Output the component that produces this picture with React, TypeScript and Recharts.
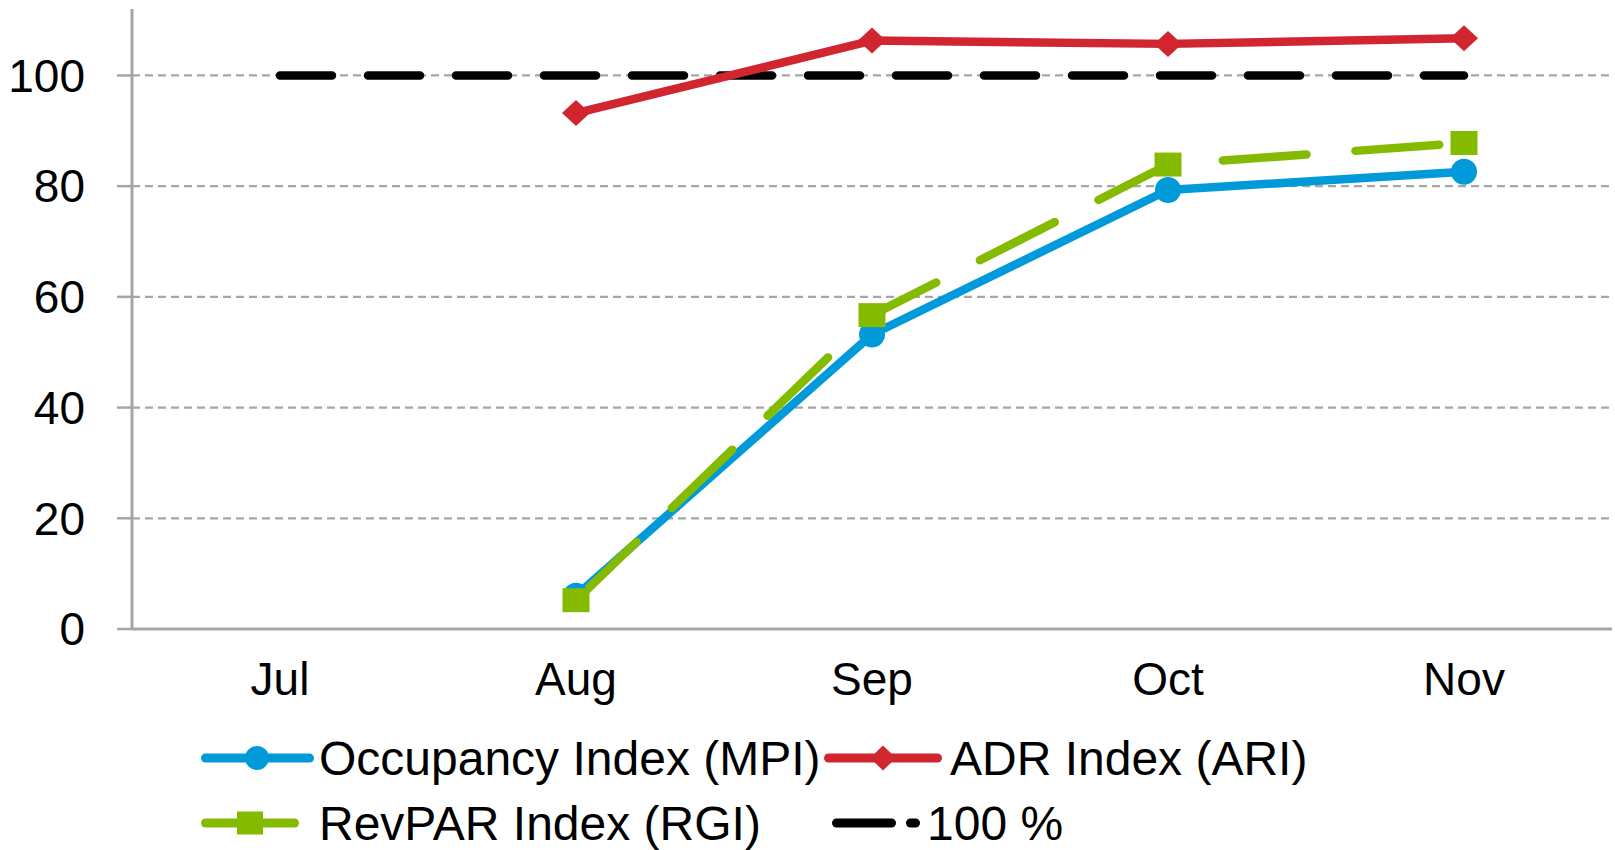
import React from 'react';
import { LineChart, Line, XAxis, YAxis, CartesianGrid, Legend } from 'recharts';

const months = ['Jul', 'Aug', 'Sep', 'Oct', 'Nov'];
const mpiValues = [null, 6.0, 53.2, 79.3, 82.6];
const ariValues = [null, 93.2, 106.3, 105.7, 106.7];
const rgiValues = [null, 5.2, 56.7, 83.9, 87.8];
const refValues = [100, 100, 100, 100, 100];
const yTicks = [0, 20, 40, 60, 80, 100];
const yDomain = [0, 112];

const seriesNames = {
  mpi: 'Occupancy Index (MPI)',
  ari: 'ADR Index (ARI)',
  rgi: 'RevPAR Index (RGI)',
  ref: '100 %',
};

const data = months.map((m, i) => ({
  month: m,
  mpi: mpiValues[i],
  ari: ariValues[i],
  rgi: rgiValues[i],
  ref: refValues[i],
}));

const BLUE = '#009ada';
const RED = '#d12530';
const GREEN = '#84bb00';
const GRAY = '#a6a6a6';
const FONT = '"Liberation Sans", Arial, sans-serif';

const W = 1615;
const H = 850;
const LEG_TOP = 700;
const LW = 8.5;

const CircleDot = (p: any) => {
  if (p.cy == null || p.value == null) return <g key={`c${p.index}`} />;
  return <circle key={`c${p.index}`} cx={p.cx} cy={p.cy} r={13} fill={BLUE} />;
};
const DiamondDot = (p: any) => {
  if (p.cy == null || p.value == null) return <g key={`d${p.index}`} />;
  const { cx, cy } = p;
  return (
    <polygon
      key={`d${p.index}`}
      points={`${cx},${cy - 13} ${cx + 14},${cy} ${cx},${cy + 13} ${cx - 14},${cy}`}
      fill={RED}
    />
  );
};
const SquareDot = (p: any) => {
  if (p.cy == null || p.value == null) return <g key={`s${p.index}`} />;
  return <rect key={`s${p.index}`} x={p.cx - 13.5} y={p.cy - 12} width={27} height={24} fill={GREEN} />;
};

const legendLayout: Record<string, { x1: number; x2: number; mx: number; cy: number; tx: number }> = {
  mpi: { x1: 201, x2: 314, mx: 257, cy: 758, tx: 319 },
  ari: { x1: 824, x2: 942, mx: 883, cy: 758, tx: 950 },
  rgi: { x1: 201, x2: 299, mx: 250, cy: 823, tx: 319 },
  ref: { x1: 832, x2: 920, mx: 0, cy: 823, tx: 927 },
};

const renderLegend = (props: any) => {
  const payload = props.payload || [];
  return (
    <svg width={W} height={H - LEG_TOP} style={{ display: 'block' }}>
      {payload.map((entry: any) => {
        const key = entry.dataKey as string;
        const L = legendLayout[key];
        if (!L) return null;
        const cy = L.cy - LEG_TOP;
        let icon: React.ReactNode = null;
        if (key === 'mpi') {
          icon = (
            <g>
              <line x1={L.x1 + 4.5} x2={L.x2 - 4.5} y1={cy} y2={cy} stroke={BLUE} strokeWidth={9} strokeLinecap="round" />
              <circle cx={L.mx} cy={cy} r={12} fill={BLUE} />
            </g>
          );
        } else if (key === 'ari') {
          icon = (
            <g>
              <line x1={L.x1 + 4.5} x2={L.x2 - 4.5} y1={cy} y2={cy} stroke={RED} strokeWidth={9} strokeLinecap="round" />
              <polygon points={`${L.mx},${cy - 12.5} ${L.mx + 13},${cy} ${L.mx},${cy + 12.5} ${L.mx - 13},${cy}`} fill={RED} />
            </g>
          );
        } else if (key === 'rgi') {
          icon = (
            <g>
              <line x1={L.x1 + 4.5} x2={L.x2 - 4.5} y1={cy} y2={cy} stroke={GREEN} strokeWidth={9} strokeLinecap="round" />
              <rect x={L.mx - 13} y={cy - 11.5} width={26} height={23} fill={GREEN} />
            </g>
          );
        } else if (key === 'ref') {
          icon = (
            <g>
              <line x1={L.x1 + 4.5} x2={896 - 4.5} y1={cy} y2={cy} stroke="#000" strokeWidth={9} strokeLinecap="round" />
              <line x1={906 + 4.5} x2={L.x2 - 4.5} y1={cy} y2={cy} stroke="#000" strokeWidth={9} strokeLinecap="round" />
            </g>
          );
        }
        return (
          <g key={key}>
            {icon}
            <text x={L.tx} y={cy + 17} fontSize={48} fontFamily={FONT} fill="#000">
              {entry.value}
            </text>
          </g>
        );
      })}
    </svg>
  );
};

const gridGen = (args: any) => {
  const yAxis = args && args.yAxis;
  if (yAxis && typeof yAxis.scale === 'function') {
    return yTicks.map((t) => yAxis.scale(t));
  }
  const off = args.offset;
  return yTicks.map((t) => off.top + off.height * (1 - (t - yDomain[0]) / (yDomain[1] - yDomain[0])));
};

export default function App() {
  return (
    <div style={{ width: W, height: H, background: '#fff' }}>
      <style>{`body{margin:0;background:#fff}`}</style>
      <LineChart width={W} height={H} data={data} margin={{ top: 9, right: 3, bottom: 161, left: 0 }}>
        <CartesianGrid
          horizontal
          vertical={false}
          stroke={GRAY}
          strokeWidth={2.2}
          strokeDasharray="8 5"
          horizontalCoordinatesGenerator={gridGen}
        />
        <XAxis
          dataKey="month"
          height={60}
          padding={{ left: 148, right: 148 }}
          tickLine={false}
          tickSize={0}
          tickMargin={33}
          axisLine={{ stroke: GRAY, strokeWidth: 3 }}
          tick={{ fontSize: 46, fill: '#000', fontFamily: FONT }}
          interval={0}
        />
        <YAxis
          width={132}
          domain={yDomain}
          ticks={yTicks}
          interval={0}
          tickSize={15}
          tickMargin={32}
          axisLine={{ stroke: GRAY, strokeWidth: 3 }}
          tickLine={{ stroke: GRAY, strokeWidth: 2.5 }}
          tick={{ fontSize: 46, fill: '#000', fontFamily: FONT }}
        />
        <Legend
          layout="horizontal"
          verticalAlign="middle"
          align="center"
          content={renderLegend}
          wrapperStyle={{ position: 'absolute', top: LEG_TOP, left: 0, width: W, height: H - LEG_TOP }}
        />
        <Line
          dataKey="ref"
          name={seriesNames.ref}
          type="linear"
          stroke="#000"
          strokeWidth={LW}
          strokeDasharray="52 36"
          strokeLinecap="round"
          dot={false}
          activeDot={false}
          isAnimationActive={false}
        />
        <Line
          dataKey="mpi"
          name={seriesNames.mpi}
          type="linear"
          stroke={BLUE}
          strokeWidth={LW}
          strokeLinejoin="round"
          dot={CircleDot}
          activeDot={false}
          isAnimationActive={false}
        />
        <Line
          dataKey="ari"
          name={seriesNames.ari}
          type="linear"
          stroke={RED}
          strokeWidth={LW}
          strokeLinejoin="round"
          dot={DiamondDot}
          activeDot={false}
          isAnimationActive={false}
        />
        <Line
          dataKey="rgi"
          name={seriesNames.rgi}
          type="linear"
          stroke={GREEN}
          strokeWidth={LW}
          strokeDasharray="84 49"
          strokeLinecap="round"
          dot={SquareDot}
          activeDot={false}
          isAnimationActive={false}
        />
      </LineChart>
    </div>
  );
}
